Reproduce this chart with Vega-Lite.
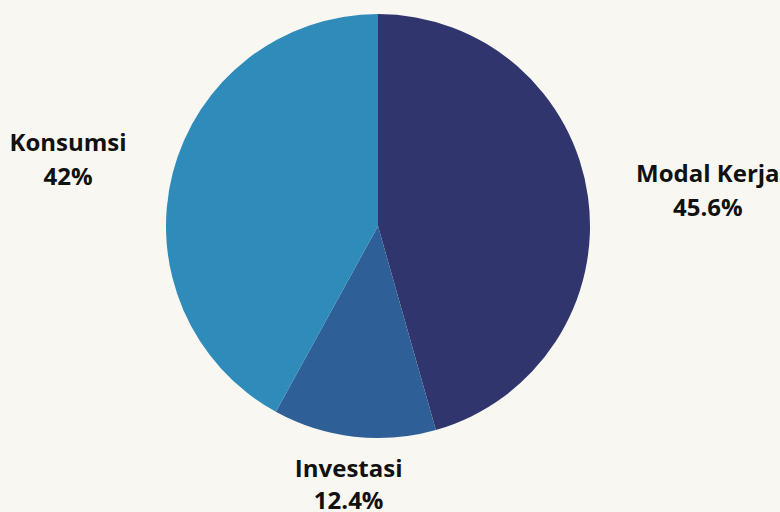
{
  "$schema": "https://vega.github.io/schema/vega-lite/v6.json",
  "width": 756,
  "height": 452,
  "autosize": "none",
  "padding": {"left": 0, "top": 0, "right": 24, "bottom": 60},
  "background": "#f8f7f1",
  "config": {"view": {"stroke": null}, "font": "Open Sans"},
  "data": {"values": [
    {"kategori": "Modal Kerja", "persen": 45.6, "label": "45.6%", "urut": 1},
    {"kategori": "Investasi", "persen": 12.4, "label": "12.4%", "urut": 2},
    {"kategori": "Konsumsi", "persen": 42, "label": "42%", "urut": 3}
  ]},
  "encoding": {
    "theta": {"field": "persen", "type": "quantitative", "stack": true},
    "order": {"field": "urut", "type": "quantitative"}
  },
  "layer": [
    {
      "mark": {"type": "arc", "outerRadius": 212},
      "encoding": {
        "color": {
          "field": "kategori", "type": "nominal", "legend": null,
          "scale": {"domain": ["Modal Kerja", "Investasi", "Konsumsi"], "range": ["#31356e", "#2e5f96", "#2e8bba"]}
        }
      }
    },
    {
      "mark": {"type": "text", "fontSize": 24, "fontWeight": "bold", "color": "#111111",
        "dy": {"expr": "datum.kategori === 'Investasi' ? -14 : (datum.kategori === 'Modal Kerja' ? -5 : -2)"},
        "radius": {"expr": "datum.kategori === 'Investasi' ? 260 : (datum.kategori === 'Modal Kerja' ? 333 : 320)"}},
      "encoding": {
        "text": {"field": "kategori"}
      }
    },
    {
      "mark": {"type": "text", "fontSize": 24, "fontWeight": "bold", "color": "#111111",
        "dy": {"expr": "datum.kategori === 'Investasi' ? 18 : (datum.kategori === 'Modal Kerja' ? 29 : 32)"},
        "radius": {"expr": "datum.kategori === 'Investasi' ? 260 : (datum.kategori === 'Modal Kerja' ? 333 : 320)"}},
      "encoding": {
        "text": {"field": "label"}
      }
    }
  ]
}
